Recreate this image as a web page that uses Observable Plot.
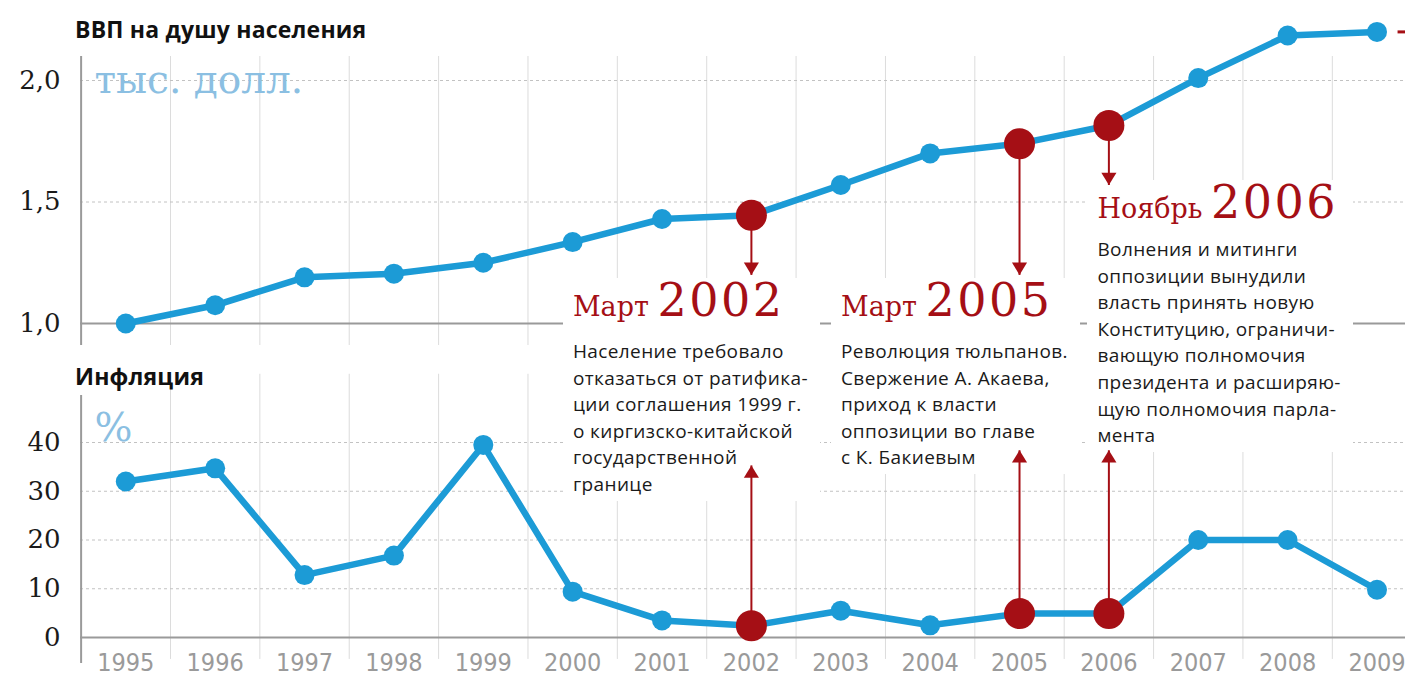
<!DOCTYPE html>
<html>
<head>
<meta charset="utf-8">
<script src="https://cdn.jsdelivr.net/npm/d3@7"></script>
<script src="https://cdn.jsdelivr.net/npm/@observablehq/plot@0.6"></script>
<style>
  body { margin: 0; background: #fff; }
  #wrap { position: relative; width: 1405px; height: 679px; overflow: hidden; background: #fff; }
  #wrap > * { position: absolute; }
  .title { font-family: "Open Sans", sans-serif; font-weight: 700; font-size: 23px; line-height: 23px; letter-spacing: 0.2px; color: #111; white-space: nowrap; }
  .ann { background: #fff; padding: 0 12px 3px 10px; }
  .head { font-family: "DejaVu Serif", serif; color: #a50f15; font-size: 46px; line-height: 44px; white-space: nowrap; }
  .head .m { font-size: 27px; }
  .head .y { font-size: 46px; letter-spacing: 2.5px; }
  .body { font-family: "Open Sans", sans-serif; font-size: 19px; font-weight: 500; letter-spacing: 0.4px; line-height: 26.6px; color: #1a1a1a; white-space: nowrap; }
</style>
</head>
<body>
<div id="wrap"></div>
<script>
// ---------------- data ----------------
const years = [1995, 1996, 1997, 1998, 1999, 2000, 2001, 2002, 2003, 2004, 2005, 2006, 2007, 2008, 2009];
const gdpPerCapita = [1.00, 1.075, 1.19, 1.205, 1.25, 1.335, 1.43, 1.445, 1.57, 1.70, 1.74, 1.815, 2.01, 2.185, 2.20]; // тыс. долл.
const inflation = [32, 34.7, 12.8, 16.8, 39.5, 9.4, 3.5, 2.4, 5.5, 2.5, 4.9, 4.9, 20, 20, 9.8]; // %
const gdpTicks = [1, 1.5, 2];
const inflationTicks = [0, 10, 20, 30, 40];
const eventYears = [2002, 2005, 2006];
const eventMonths = ["Март", "Март", "Ноябрь"];
const eventTexts = [
  ["Население требовало", "отказаться от ратифика-", "ции соглашения 1999 г.", "о киргизско-китайской", "государственной", "границе"],
  ["Революция тюльпанов.", "Свержение А. Акаева,", "приход к власти", "оппозиции во главе", "с К. Бакиевым"],
  ["Волнения и митинги", "оппозиции вынудили", "власть принять новую", "Конституцию, ограничи-", "вающую полномочия", "президента и расширяю-", "щую полномочия парла-", "мента"]
];
// where each arrow ends (in the units of each panel)
const arrowEndGdp = [1.2, 1.2, 1.57];
const arrowEndInflation = [35.3, 38.4, 38.4];

// ---------------- layout / style ----------------
const W = 1405, topH = 345, botTop = 345, botH = 334;
const BLUE = "#1c9bd6", RED = "#a50f15", LIGHTBLUE = "#8bbfe2";
const GRID = "#dcdcdc", DOT = "#c2c2c2", AXIS = "#9a9a9a";
const xScale = {type: "linear", domain: [1995, 2009], range: [125.3, 1376.5]};
const yTop = {type: "linear", domain: [1, 2], range: [323, 80]};
const yBot = {type: "linear", domain: [0, 40], range: [292, 97]};
const gridYears = d3.range(1995.5, 2009, 1);
const commaFmt = d => d.toFixed(1).replace(".", ",");

const gdpData = years.map((year, i) => ({year, value: gdpPerCapita[i]}));
const infData = years.map((year, i) => ({year, value: inflation[i]}));
const events = eventYears.map((year, i) => ({
  year,
  gdp: gdpPerCapita[years.indexOf(year)],
  inf: inflation[years.indexOf(year)],
  gdpEnd: arrowEndGdp[i],
  infEnd: arrowEndInflation[i]
}));

// custom arrow-head symbols with the tip at the anchor point
const headDown = {draw(ctx, size) { const r = Math.sqrt(size / Math.PI); const w = 1.35 * r, h = 2.2 * r;
  ctx.moveTo(0, 0); ctx.lineTo(-w, -h); ctx.lineTo(w, -h); ctx.closePath(); }};
const headUp = {draw(ctx, size) { const r = Math.sqrt(size / Math.PI); const w = 1.35 * r, h = 2.2 * r;
  ctx.moveTo(0, 0); ctx.lineTo(-w, h); ctx.lineTo(w, h); ctx.closePath(); }};

const wrap = document.getElementById("wrap");
const baseStyle = {fontFamily: "DejaVu Serif, serif", background: "transparent", overflow: "visible"};

// ---------- background layers (grid, axes) ----------
const topGrid = Plot.plot({
  width: W, height: topH, marginLeft: 80, marginRight: 0, marginTop: 56, marginBottom: 0,
  x: {...xScale, axis: null}, y: {...yTop, axis: null}, style: baseStyle,
  marks: [
    Plot.ruleX(gridYears, {stroke: GRID, strokeWidth: 1}),
    Plot.ruleY([1.5, 2], {stroke: DOT, strokeDasharray: "3,3"}),
    Plot.ruleY([1], {stroke: AXIS, strokeWidth: 2}),
    Plot.ruleX([1994.5], {stroke: AXIS, strokeWidth: 2}),
    Plot.axisY({ticks: gdpTicks, tickFormat: commaFmt, tickSize: 0, tickPadding: 20, fontSize: 26, fill: "#1a1a1a", label: null, fontFamily: "DejaVu Serif"}),
    Plot.text(["тыс. долл."], {frameAnchor: "top-left", dx: 14, dy: 9, fontSize: 39, fill: LIGHTBLUE, fontFamily: "DejaVu Serif"})
  ]
});
topGrid.style.left = "0px"; topGrid.style.top = "0px";
wrap.appendChild(topGrid);

const botGrid = Plot.plot({
  width: W, height: botH, marginLeft: 80, marginRight: 0, marginTop: 50, marginBottom: 16,
  x: {...xScale, axis: null}, y: {...yBot, axis: null}, style: baseStyle,
  marks: [
    Plot.ruleX(gridYears, {y1: -4.5, y2: 54, stroke: GRID, strokeWidth: 1}),
    Plot.ruleY([10, 20, 30, 40], {stroke: DOT, strokeDasharray: "3,3"}),
    Plot.ruleY([0], {stroke: AXIS, strokeWidth: 2}),
    Plot.ruleX([1994.5], {stroke: AXIS, strokeWidth: 2}),
    Plot.axisY({ticks: inflationTicks, tickFormat: d => String(d), tickSize: 0, tickPadding: 20, fontSize: 26, fill: "#1a1a1a", label: null, fontFamily: "DejaVu Serif"}),
    Plot.axisX({ticks: years, tickFormat: d => String(d), tickSize: 0, tickPadding: -10, fontSize: 25, fill: "#9a9a9a", label: null,
      fontFamily: "Liberation Sans Narrow, DejaVu Sans Condensed, sans-serif"}),
    Plot.text(["%"], {frameAnchor: "top-left", dx: 14, dy: 17, fontSize: 40, fill: LIGHTBLUE, fontFamily: "DejaVu Serif"})
  ]
});
botGrid.style.left = "0px"; botGrid.style.top = botTop + "px";
wrap.appendChild(botGrid);

// ---------- titles ----------
function addDiv(cls, html, left, top) {
  const d = document.createElement("div");
  d.className = cls; d.innerHTML = html;
  d.style.left = left + "px"; d.style.top = top + "px";
  wrap.appendChild(d); return d;
}
addDiv("title", "ВВП на душу населения", 75, 18);
addDiv("title", "Инфляция", 75, 365);

// ---------- annotations (positioned through the x scale) ----------
const sx = topGrid.scale("x");
const annLayout = [
  {dx: -188, top: 278, gap: 9},
  {dx: -188, top: 278, gap: 9},
  {dx: -21, top: 180, gap: 5}
];
eventYears.forEach((year, i) => {
  const L = annLayout[i];
  const html = `<div class="head"><span class="m">${eventMonths[i]} </span><span class="y">${year}</span></div>` +
    `<div class="body" style="margin-top:${L.gap}px">${eventTexts[i].join("<br>")}</div>`;
  addDiv("ann", html, sx.apply(year) + L.dx, L.top);
});

// ---------- data layers (lines, dots, arrows) ----------
const topData = Plot.plot({
  width: W, height: topH, marginLeft: 80, marginRight: 0, marginTop: 56, marginBottom: 0,
  x: {...xScale, axis: null}, y: {...yTop, axis: null}, style: baseStyle,
  marks: [
    Plot.line(gdpData, {x: "year", y: "value", stroke: BLUE, strokeWidth: 6.5}),
    Plot.dot(gdpData, {x: "year", y: "value", r: 10, fill: BLUE}),
    Plot.link(events, {x1: "year", x2: "year", y1: "gdp", y2: "gdpEnd", stroke: RED, strokeWidth: 2}),
    Plot.dot(events, {x: "year", y: "gdpEnd", symbol: headDown, r: 5.6, fill: RED}),
    Plot.dot(events, {x: "year", y: "gdp", r: 15.5, fill: RED}),
    Plot.link([gdpData[gdpData.length - 1]], {x1: d => d.year + 0.23, x2: d => d.year + 0.5, y1: "value", y2: "value", stroke: RED, strokeWidth: 3})
  ]
});
topData.style.left = "0px"; topData.style.top = "0px";
wrap.appendChild(topData);

const botData = Plot.plot({
  width: W, height: botH, marginLeft: 80, marginRight: 0, marginTop: 50, marginBottom: 16,
  x: {...xScale, axis: null}, y: {...yBot, axis: null}, style: baseStyle,
  marks: [
    Plot.line(infData, {x: "year", y: "value", stroke: BLUE, strokeWidth: 6.5}),
    Plot.dot(infData, {x: "year", y: "value", r: 10, fill: BLUE}),
    Plot.link(events, {x1: "year", x2: "year", y1: "inf", y2: "infEnd", stroke: RED, strokeWidth: 2}),
    Plot.dot(events, {x: "year", y: "infEnd", symbol: headUp, r: 5.6, fill: RED}),
    Plot.dot(events, {x: "year", y: "inf", r: 15.5, fill: RED})
  ]
});
botData.style.left = "0px"; botData.style.top = botTop + "px";
wrap.appendChild(botData);
</script>
</body>
</html>
